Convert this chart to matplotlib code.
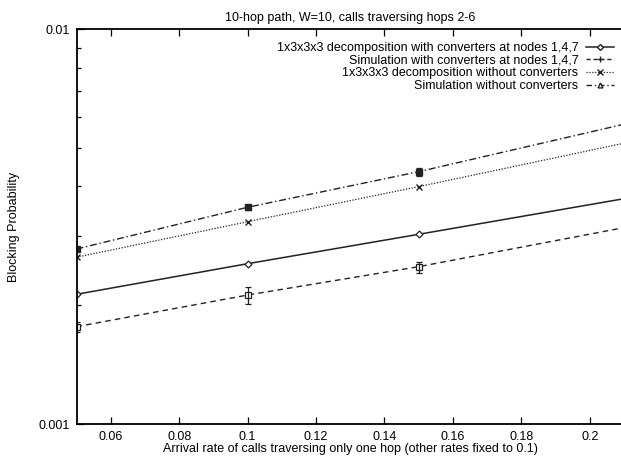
import matplotlib
matplotlib.use("Agg")
import matplotlib.pyplot as plt
from matplotlib.lines import Line2D
from matplotlib.ticker import FixedLocator, FixedFormatter, LogLocator, NullFormatter

plt.rcParams['font.family'] = ['Liberation Sans', 'DejaVu Sans']

# arrival rate of one-hop calls
rate = [0.05, 0.1, 0.15, 0.25]

# 1x3x3x3 decomposition with converters at nodes 1,4,7
dec_conv = [0.002132, 0.002549, 0.003026, 0.004278]
# simulation with converters at nodes 1,4,7
sim_conv = [0.001765, 0.002123, 0.002505, 0.003662]
sim_conv_lo = [0.001714, 0.002014, 0.002408, 0.003662]
sim_conv_hi = [0.001818, 0.002223, 0.002573, 0.003662]
# 1x3x3x3 decomposition without converters
dec_noconv = [0.002647, 0.003257, 0.003997, 0.006097]
# simulation without converters
sim_noconv = [0.002777, 0.003543, 0.004361, 0.00692]
sim_noconv_lo = [0.002740, 0.003495, 0.004264, 0.00692]
sim_noconv_hi = [0.002815, 0.003590, 0.004445, 0.00692]

labels = ["1x3x3x3 decomposition with converters at nodes 1,4,7",
          "Simulation with converters at nodes 1,4,7",
          "1x3x3x3 decomposition without converters",
          "Simulation without converters"]

fig = plt.figure(figsize=(6.21, 4.58), dpi=100)
ax = fig.add_axes([0.1232, 0.0742, 0.8816, 0.8614])

c = '#222222'
fs = 9
ax.plot(rate, dec_conv, color=c, lw=1.1, ls='-', marker='D', ms=3.5,
        mfc='white', mec=c, mew=0.9)
ax.plot(rate, sim_conv, color=c, lw=1.0, ls=(0, (4, 3)), marker='s', ms=4.5,
        mfc='white', mec=c, mew=0.9)
ax.errorbar(rate, sim_conv,
            yerr=[[v - l for v, l in zip(sim_conv, sim_conv_lo)],
                  [h - v for v, h in zip(sim_conv, sim_conv_hi)]],
            fmt='none', ecolor=c, elinewidth=0.9, capsize=2.5, capthick=0.9)
ax.plot(rate, dec_noconv, color=c, lw=0.9, ls=(0, (1, 1.3)), marker='x', ms=5,
        mec=c, mew=1.0)
ax.plot(rate, sim_noconv, color=c, lw=1.0, ls=(0, (5, 2, 1, 2)), marker='s', ms=4.5,
        mfc=c, mec=c)
ax.errorbar(rate, sim_noconv,
            yerr=[[v - l for v, l in zip(sim_noconv, sim_noconv_lo)],
                  [h - v for v, h in zip(sim_noconv, sim_noconv_hi)]],
            fmt='none', ecolor=c, elinewidth=0.9, capsize=2.5, capthick=0.9)

ax.set_yscale('log')
ax.set_xlim(0.05, 0.21)
ax.set_ylim(0.001, 0.01)

ax.xaxis.set_major_locator(FixedLocator([0.06, 0.08, 0.1, 0.12, 0.14, 0.16, 0.18, 0.2]))
ax.xaxis.set_major_formatter(FixedFormatter(['0.06', '0.08', '0.1', '0.12', '0.14',
                                             '0.16', '0.18', '0.2']))
ax.yaxis.set_major_locator(FixedLocator([0.001, 0.01]))
ax.yaxis.set_major_formatter(FixedFormatter(['0.001', '0.01']))
ax.yaxis.set_minor_locator(LogLocator(base=10, subs=range(2, 10)))
ax.yaxis.set_minor_formatter(NullFormatter())
ax.tick_params(which='both', direction='in', top=True, right=False, labelsize=fs,
               width=0.9, pad=5)
ax.tick_params(which='major', length=5)
ax.tick_params(which='minor', length=3)
for s in ax.spines.values():
    s.set_linewidth(1.3)

ax.set_title("10-hop path, W=10, calls traversing hops 2-6", fontsize=fs, pad=6)
ax.set_xlabel("Arrival rate of calls traversing only one hop (other rates fixed to 0.1)",
              fontsize=fs, labelpad=0)
ax.set_ylabel("Blocking Probability", fontsize=fs, labelpad=13)

handles = [
    Line2D([], [], color=c, lw=1.1, ls='-', marker='D', ms=3, mfc='white', mec=c),
    Line2D([], [], color=c, lw=1.0, ls=(0, (3, 2)), marker='+', ms=5, mec=c),
    Line2D([], [], color=c, lw=0.9, ls=(0, (1, 1.3)), marker='x', ms=4, mec=c),
    Line2D([], [], color=c, lw=1.0, ls=(0, (4, 2, 1, 2)), marker='^', ms=3.5,
           mfc='white', mec=c),
]
leg = ax.legend(handles, labels, loc='upper right', bbox_to_anchor=(0.997, 0.99),
                frameon=False, markerfirst=False, fontsize=fs, handlelength=2.2,
                handletextpad=0.6, labelspacing=0.05, borderaxespad=0.3)
for t in leg.get_texts():
    t.set_ha('right')
leg._legend_box.align = 'right'

fig.savefig("out.png", dpi=100)
